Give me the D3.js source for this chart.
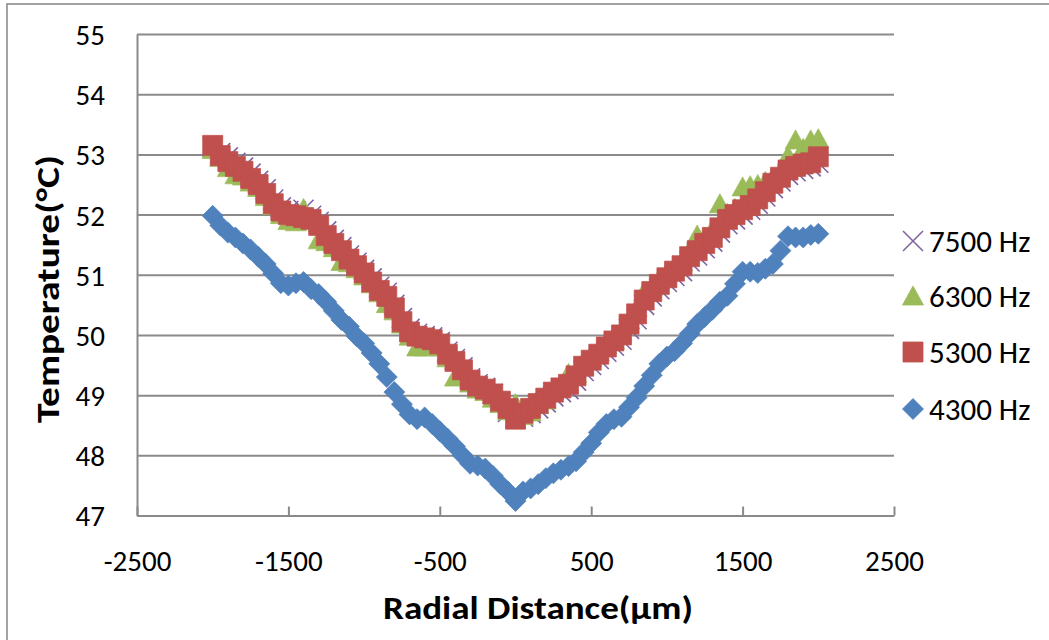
<!DOCTYPE html>
<html>
<head>
<meta charset="utf-8">
<script src="https://cdn.jsdelivr.net/npm/d3@7"></script>
<style>
  html, body { margin: 0; padding: 0; background: #fff; }
  svg { display: block; }
  text { font-family: Calibri, Carlito, Lato, sans-serif; fill: #000; }
</style>
</head>
<body>
<svg id="chart" width="1049" height="640"></svg>
<script>
// Radial scan positions (µm)
const radialDistance = [
  -2000, -1950, -1900, -1850, -1800, -1750, -1700, -1650, -1600, -1550,
  -1500, -1450, -1400, -1350, -1300, -1250, -1200, -1150, -1100, -1050,
  -1000, -950, -900, -850, -800, -750, -700, -650, -600, -550,
  -500, -450, -400, -350, -300, -250, -200, -150, -100, -50,
  0, 50, 100, 150, 200, 250, 300, 350, 400, 450,
  500, 550, 600, 650, 700, 750, 800, 850, 900, 950,
  1000, 1050, 1100, 1150, 1200, 1250, 1300, 1350, 1400, 1450,
  1500, 1550, 1600, 1650, 1700, 1750, 1800, 1850, 1900, 1950,
  2000
];

// Temperature (°C) per excitation frequency
const temp7500 = [
  53.12, 53.02, 52.95, 52.86, 52.78, 52.68, 52.56, 52.42, 52.25, 52.12,
  52.06, 52.05, 52.08, 51.98, 51.88, 51.72, 51.58, 51.46, 51.32, 51.20,
  51.08, 50.94, 50.80, 50.70, 50.50, 50.28, 50.10, 50.02, 49.98, 49.96,
  49.88, 49.72, 49.60, 49.46, 49.28, 49.18, 49.12, 49.02, 48.88, 48.72,
  48.62, 48.64, 48.70, 48.78, 48.88, 48.98, 49.05, 49.10, 49.24, 49.40,
  49.50, 49.60, 49.72, 49.82, 49.92, 50.10, 50.26, 50.50, 50.64, 50.76,
  50.88, 50.98, 51.06, 51.22, 51.32, 51.44, 51.55, 51.70, 51.84, 51.92,
  52.00, 52.08, 52.18, 52.30, 52.44, 52.55, 52.66, 52.72, 52.76, 52.80,
  52.86
];
const temp6300 = [
  53.08, 52.95, 52.78, 52.66, 52.64, 52.54, 52.45, 52.30, 52.15, 52.00,
  51.90, 51.88, 52.10, 51.95, 51.58, 51.55, 51.45, 51.22, 51.20, 51.10,
  50.98, 50.85, 50.70, 50.52, 50.40, 50.18, 49.98, 49.80, 49.80, 49.85,
  49.80, 49.62, 49.30, 49.34, 49.20, 49.10, 49.06, 48.95, 48.86, 48.74,
  48.86, 48.66, 48.72, 48.85, 48.92, 49.08, 49.15, 49.36, 49.36, 49.50,
  49.62, 49.72, 49.84, 49.92, 50.05, 50.25, 50.45, 50.72, 50.80, 50.92,
  51.03, 51.12, 51.22, 51.40, 51.66, 51.62, 51.75, 52.18, 52.02, 52.10,
  52.46, 52.48, 52.50, 52.55, 52.60, 52.72, 52.98, 53.24, 53.10, 53.24,
  53.26
];
const temp5300 = [
  53.15, 52.98, 52.88, 52.80, 52.72, 52.60, 52.50, 52.35, 52.18, 52.06,
  52.00, 51.98, 51.95, 51.92, 51.82, 51.65, 51.52, 51.40, 51.26, 51.15,
  51.03, 50.88, 50.74, 50.64, 50.45, 50.22, 50.05, 49.98, 49.95, 49.92,
  49.85, 49.68, 49.56, 49.42, 49.25, 49.15, 49.10, 49.02, 48.90, 48.78,
  48.60, 48.70, 48.78, 48.86, 48.95, 49.05, 49.12, 49.18, 49.32, 49.48,
  49.58, 49.68, 49.80, 49.90, 50.00, 50.18, 50.35, 50.58, 50.72, 50.84,
  50.95, 51.06, 51.15, 51.30, 51.40, 51.52, 51.62, 51.78, 51.92, 52.00,
  52.08, 52.15, 52.26, 52.38, 52.52, 52.62, 52.74, 52.80, 52.84, 52.86,
  52.96
];
const temp4300 = [
  51.98, 51.82, 51.70, 51.62, 51.52, 51.42, 51.30, 51.18, 51.02, 50.86,
  50.82, 50.86, 50.88, 50.76, 50.68, 50.55, 50.40, 50.25, 50.14, 49.98,
  49.86, 49.70, 49.52, 49.30, 49.05, 48.85, 48.68, 48.60, 48.63, 48.52,
  48.40, 48.28, 48.15, 48.00, 47.86, 47.83, 47.78, 47.66, 47.52, 47.40,
  47.24, 47.40, 47.45, 47.52, 47.62, 47.70, 47.76, 47.82, 47.90, 48.05,
  48.20, 48.38, 48.52, 48.60, 48.64, 48.80, 48.96, 49.15, 49.33, 49.52,
  49.64, 49.73, 49.86, 50.02, 50.18, 50.30, 50.42, 50.55, 50.65, 50.85,
  51.05, 51.05, 51.03, 51.10, 51.18, 51.40, 51.64, 51.62, 51.62, 51.66,
  51.68
];

const seriesNames = ["7500 Hz", "6300 Hz", "5300 Hz", "4300 Hz"];
const xTickValues = [-2500, -1500, -500, 500, 1500, 2500];
const yTickValues = [47, 48, 49, 50, 51, 52, 53, 54, 55];

// Marker shapes, all about 20px across
const markerPaths = {
  times:    "M-10,-10L10,10M10,-10L-10,10",
  triangle: "M0,-10L10.5,9L-10.5,9Z",
  square:   "M-10,-10H10V10H-10Z",
  diamond:  "M0,-10.5L10.5,0L0,10.5L-10.5,0Z"
};

const series = [
  { name: seriesNames[0], values: temp7500, color: "#8064A2", shape: "times" },
  { name: seriesNames[1], values: temp6300, color: "#9BBB59", shape: "triangle" },
  { name: seriesNames[2], values: temp5300, color: "#C0504D", shape: "square" },
  { name: seriesNames[3], values: temp4300, color: "#4F81BD", shape: "diamond" }
];

const svg = d3.select("#chart");
const plot = { left: 137, right: 894, top: 34, bottom: 515.5 };

const x = d3.scaleLinear().domain([-2500, 2500]).range([plot.left, plot.right]);
const y = d3.scaleLinear().domain([47, 55]).range([plot.bottom, plot.top]);

const axisColor = "#8a8a8a";
const fontStack = "Calibri, Carlito, Lato, sans-serif";
const plainNumber = d => String(d);   // ASCII hyphen for negatives

// chart-area frame
svg.append("rect")
  .attr("x", 7).attr("y", 4)
  .attr("width", 1100).attr("height", 700)
  .attr("fill", "none")
  .attr("stroke", "#8c8c8c")
  .attr("stroke-width", 1.6);

// value axis with horizontal gridlines
const yAxis = svg.append("g")
  .attr("transform", `translate(${plot.left},0)`)
  .call(d3.axisLeft(y)
    .tickValues(yTickValues)
    .tickFormat(plainNumber)
    .tickSizeInner(-(plot.right - plot.left))
    .tickSizeOuter(0)
    .tickPadding(32));
yAxis.selectAll("line").attr("stroke", axisColor).attr("stroke-width", 2);
yAxis.select(".domain").attr("stroke", axisColor).attr("stroke-width", 2);
yAxis.selectAll("text")
  .attr("font-family", fontStack)
  .attr("font-size", 29)
  .attr("fill", "#000")
  .attr("dy", "0.36em");

// distance axis with inward ticks
const xAxis = svg.append("g")
  .attr("transform", `translate(0,${plot.bottom})`)
  .call(d3.axisBottom(x)
    .tickValues(xTickValues)
    .tickFormat(plainNumber)
    .tickSizeInner(-9)
    .tickSizeOuter(0)
    .tickPadding(55));
xAxis.selectAll("line").attr("stroke", axisColor).attr("stroke-width", 2);
xAxis.select(".domain").attr("stroke", axisColor).attr("stroke-width", 2);
xAxis.selectAll("text")
  .attr("font-family", fontStack)
  .attr("font-size", 29)
  .attr("fill", "#000")
  .attr("dy", "0em");

// markers, drawn in series order so later series sit on top
const layers = svg.append("g");
series.forEach(s => {
  const g = layers.append("g");
  const pts = radialDistance.map((d, i) => ({ d, t: s.values[i] }));
  const marks = g.selectAll("path").data(pts).join("path")
    .attr("transform", p => `translate(${x(p.d)},${y(p.t)})`)
    .attr("d", markerPaths[s.shape]);
  if (s.shape === "times") {
    marks.attr("fill", "none").attr("stroke", s.color).attr("stroke-width", 1.6);
  } else {
    marks.attr("fill", s.color).attr("stroke", s.color).attr("stroke-width", 0.8)
      .attr("stroke-opacity", 0.9);
  }
});

// legend
const legend = svg.append("g");
const legendRows = [241, 296, 352, 409];
series.forEach((s, i) => {
  const row = legend.append("g").attr("transform", `translate(913,${legendRows[i]})`);
  const m = row.append("path").attr("d", markerPaths[s.shape]);
  if (s.shape === "times") {
    m.attr("fill", "none").attr("stroke", s.color).attr("stroke-width", 1.6);
  } else {
    m.attr("fill", s.color).attr("stroke", s.color).attr("stroke-width", 0.8);
  }
  row.append("text")
    .attr("x", 16).attr("y", 0).attr("dy", "0.36em")
    .attr("font-size", 31)
    .text(s.name);
});

// axis titles
svg.append("text")
  .attr("x", 538).attr("y", 619)
  .attr("text-anchor", "middle")
  .attr("font-weight", "bold")
  .attr("font-size", 33)
  .attr("textLength", 310)
  .attr("lengthAdjust", "spacingAndGlyphs")
  .text("Radial Distance(µm)");

svg.append("text")
  .attr("transform", "translate(59,289) rotate(-90)")
  .attr("text-anchor", "middle")
  .attr("font-weight", "bold")
  .attr("font-size", 33)
  .attr("textLength", 268)
  .attr("lengthAdjust", "spacingAndGlyphs")
  .text("Temperature(°C)");
</script>
</body>
</html>
